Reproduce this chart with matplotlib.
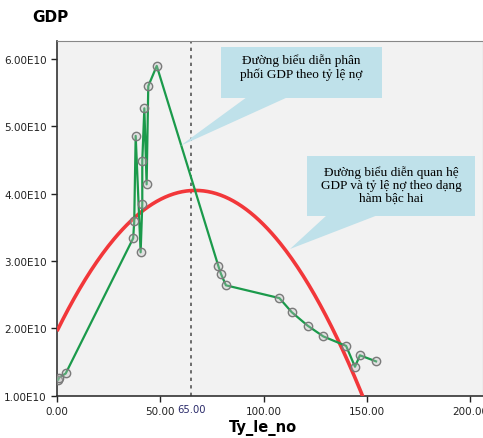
import matplotlib.pyplot as plt
from matplotlib.patches import Polygon, Rectangle
from matplotlib.ticker import FuncFormatter
import matplotlib.transforms as mtransforms

# debt ratio (x) and GDP in units of 1E10 (y), sorted by x as SPSS draws it
ty_le_no = [0.6, 1.1, 4.2, 36.9, 37.4, 38.1, 40.5, 41.3, 41.3, 42.3, 43.4, 44.2,
            48.3, 78.1, 79.4, 81.8, 107.7, 113.7, 121.4, 129.0, 140.0, 144.3,
            146.7, 154.5]
gdp = [1.24, 1.27, 1.33, 3.34, 3.59, 4.86, 3.13, 3.85, 4.49, 5.27, 4.14, 5.60,
       5.90, 2.93, 2.81, 2.64, 2.45, 2.24, 2.04, 1.88, 1.74, 1.43, 1.60, 1.51]

# quadratic fit y = c0 + c1*x + c2*x^2 (GDP in 1E10)
c0, c1, c2 = 1.96, 0.06239, -4.656e-4
ref_x = 65.0

x_ticks = [0, 50, 100, 150, 200]
y_ticks = [1, 2, 3, 4, 5, 6]

W, H = 483, 439
fig = plt.figure(figsize=(W / 100, H / 100), dpi=100)
ax = fig.add_axes([57 / W, 1 - 396.7 / H, 1 - 57 / W, (396.7 - 42) / H])
ax.set_facecolor('#f2f2f2')
ax.set_xlim(0, (W - 57) / 2.065)
ax.set_ylim(1.0, 6.27)

# fitted curve
n = 300
xs = [i * 206 / (n - 1) for i in range(n)]
ys = [c0 + c1 * x + c2 * x * x for x in xs]
ax.plot(xs, ys, color='#f2373a', lw=2.6, zorder=3, solid_capstyle='butt')

# data line + markers
ax.plot(ty_le_no, gdp, color='#1b9a4b', lw=1.6, zorder=4)
ax.plot(ty_le_no, gdp, ls='none', marker='o', ms=6, mfc=(0.75, 0.75, 0.75, 0.35),
        mec='#7a7a7a', mew=1.0, zorder=5)

ax.axvline(ref_x, color='#555555', ls=(0, (2, 2.5)), lw=1.2, zorder=2)

ax.set_xticks(x_ticks)
ax.set_xticklabels(['%.2f' % v for v in x_ticks])
ax.set_yticks(y_ticks)
ax.yaxis.set_major_formatter(FuncFormatter(lambda v, p: '%.2fE10' % v))
ax.tick_params(labelsize=7.5, colors='#222222', length=4, width=1, direction='out')
for s in ['top', 'right']:
    ax.spines[s].set_color('#888888')
for s in ['left', 'bottom']:
    ax.spines[s].set_color('#333333')
    ax.spines[s].set_linewidth(1.2)

trans = mtransforms.blended_transform_factory(ax.transData, ax.transAxes)
ax.text(ref_x, -0.022, '65.00', transform=trans, ha='center', va='top',
        fontsize=7.2, color='#2a2a6a')

fig.text(50 / W, 1 - 18 / H, 'GDP', fontsize=11, fontweight='bold', ha='center', va='center')
fig.text(263 / W, 1 - 428 / H, 'Ty_le_no', fontsize=10.5, fontweight='bold', ha='center', va='center')


def px(x, y):
    return (x / W, 1 - y / H)


blue = '#bfe1ea'
# callout 1
fig.patches.append(Polygon([px(247, 98), px(288, 98), px(180, 147)], closed=True,
                           transform=fig.transFigure, fc=blue, ec='none', zorder=6))
fig.patches.append(Rectangle(px(221, 99), (382 - 221) / W, (99 - 48) / H,
                             transform=fig.transFigure, fc=blue, ec='none', zorder=6))
fig.text(301 / W, 1 - 67.5 / H, 'Đường biểu diễn phân\nphối GDP theo tỷ lệ nợ',
         family='Liberation Serif', fontsize=9.5, ha='center', va='center',
         linespacing=1.1, zorder=7)
# callout 2
fig.patches.append(Polygon([px(327, 216), px(378, 216), px(290, 250)], closed=True,
                           transform=fig.transFigure, fc=blue, ec='none', zorder=6))
fig.patches.append(Rectangle(px(307, 217), (475 - 307) / W, (217 - 157) / H,
                             transform=fig.transFigure, fc=blue, ec='none', zorder=6))
fig.text(391 / W, 1 - 185.5 / H, 'Đường biểu diễn quan hệ\nGDP và tỷ lệ nợ theo dạng\nhàm bậc hai',
         family='Liberation Serif', fontsize=9.5, ha='center', va='center',
         linespacing=1.1, zorder=7)

fig.savefig('out.png', dpi=100)
